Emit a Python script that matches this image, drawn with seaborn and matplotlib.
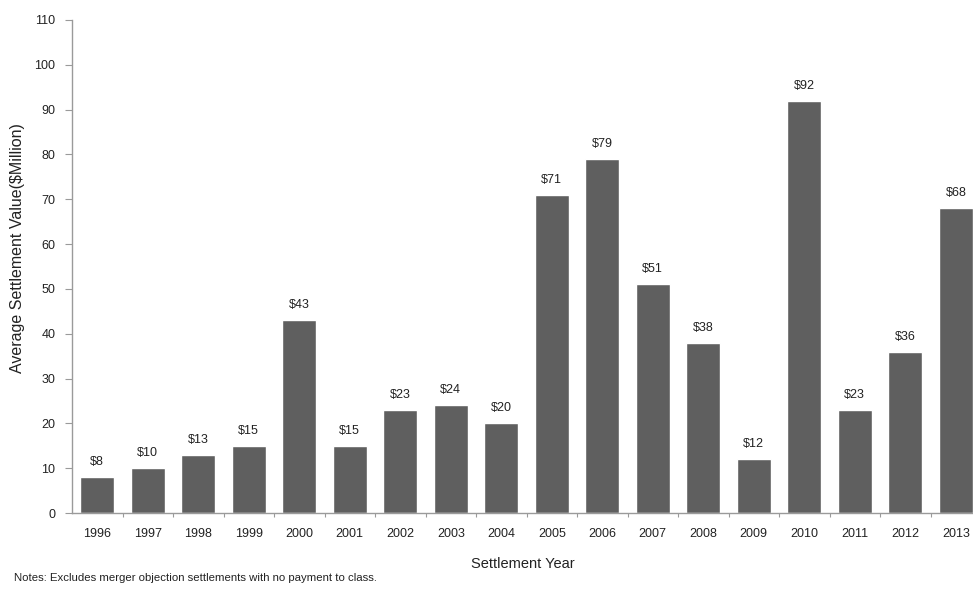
import matplotlib
matplotlib.use("Agg")
import matplotlib.pyplot as plt
import seaborn as sns
import pandas as pd

years = ["1996", "1997", "1998", "1999", "2000", "2001", "2002", "2003", "2004",
         "2005", "2006", "2007", "2008", "2009", "2010", "2011", "2012", "2013"]
avg_value = [8, 10, 13, 15, 43, 15, 23, 24, 20, 71, 79, 51, 38, 12, 92, 23, 36, 68]
y_ticks = [0, 10, 20, 30, 40, 50, 60, 70, 80, 90, 100, 110]

sns.set_theme(style="white")
plt.rcParams["font.family"] = ["Liberation Sans", "DejaVu Sans"]

df = pd.DataFrame({"year": years, "value": avg_value})

fig = plt.figure(figsize=(9.73, 5.93), dpi=100)
ax = fig.add_axes([72 / 973, 80 / 593, 1 - 72 / 973, (513 - 20) / 593])

sns.barplot(data=df, x="year", y="value", order=years, color="#5f5f5f",
            saturation=1, width=0.67, ax=ax)

for i, v in enumerate(avg_value):
    ax.annotate(f"${v}", (i, v), xytext=(0, 6.5), textcoords="offset points",
                ha="center", va="bottom", fontsize=9, color="#222222")

ax.set_ylim(0, 110)
ax.set_yticks(y_ticks)
ax.set_xlim(-0.5, len(years) - 1 + 0.34)

for side in ["top", "right"]:
    ax.spines[side].set_visible(False)
for side in ["left", "bottom"]:
    ax.spines[side].set_color("#9a9a9a")
    ax.spines[side].set_linewidth(1.0)

ax.tick_params(axis="y", which="major", left=True, length=5, width=0.8,
               color="#9a9a9a", labelsize=9, labelcolor="#222222", pad=7)
# x tick marks sit between categories; labels stay centered under bars
ax.set_xticks(range(len(years)))
ax.set_xticklabels(years)
ax.tick_params(axis="x", which="major", bottom=False, labelsize=9,
               labelcolor="#222222", pad=5)
ax.set_xticks([i + 0.5 for i in range(len(years) - 1)], minor=True)
ax.tick_params(axis="x", which="minor", bottom=True, length=3, width=0.8,
               color="#9a9a9a")

ax.set_xlabel("Settlement Year", fontsize=10.5, color="#222222", labelpad=12)
ax.set_ylabel("Average Settlement Value($Million)", fontsize=11.5,
              color="#222222", va="center")
ax.yaxis.set_label_coords((18 - 72) / 901, (513 - 248) / 493)

fig.text(14 / 973, 1 - 578 / 593,
         "Notes: Excludes merger objection settlements with no payment to class.",
         fontsize=8.2, color="#222222", va="center", ha="left")

fig.savefig("out.png", dpi=100, facecolor="white")
